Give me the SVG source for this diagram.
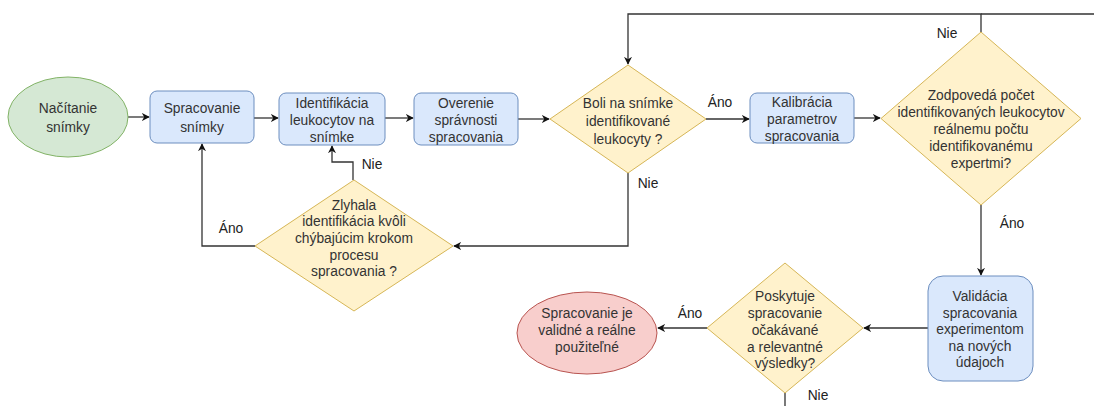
<svg xmlns="http://www.w3.org/2000/svg" width="1094" height="406" viewBox="0 0 1094 406">
<style>
text{font-family:"Liberation Sans",Arial,sans-serif;font-size:13.8px;fill:#333;text-anchor:middle;dominant-baseline:central}
.lbl{fill:#222}
.proc{fill:#dae8fc;stroke:#6c8ebf;stroke-width:1}
.dec{fill:#fff2cc;stroke:#d6b656;stroke-width:1}
.start{fill:#d5e8d4;stroke:#82b366;stroke-width:1}
.end{fill:#f8cecc;stroke:#b85450;stroke-width:1}
.c{fill:none;stroke:#333;stroke-width:1.3;marker-end:url(#ah)}
.cn{fill:none;stroke:#333;stroke-width:1.3}
</style>
<defs>
<marker id="ah" viewBox="0 0 10 10" refX="9" refY="5" markerWidth="8" markerHeight="8" markerUnits="userSpaceOnUse" orient="auto">
<path d="M0,0 L10,5 L0,10 L3,5 z" fill="#111"/>
</marker>
</defs>
<rect width="1094" height="406" fill="#fff"/>
<g id="connectors">
<path class="c" d="M128,117 H149"/>
<path class="c" d="M254,118 H278"/>
<path class="c" d="M385,118 H413"/>
<path class="c" d="M518,119 H549"/>
<path class="c" d="M706,119 H749"/>
<path class="c" d="M854,118 H880"/>
<path class="c" d="M981,32 V14 H628 V64"/>
<path class="cn" d="M785,393 V420 H1110 V14 H981"/>
<path class="c" d="M981,205 V275"/>
<path class="c" d="M928,328 H864"/>
<path class="c" d="M707,328 H658"/>
<path class="c" d="M628,173 V246 H454"/>
<path class="c" d="M255,246 H202 V144"/>
<path class="c" d="M353,180 V162 H332 V146"/>
<text class="lbl" x="720" y="102">Áno</text>
<text class="lbl" x="648" y="183">Nie</text>
<text class="lbl" x="947" y="33">Nie</text>
<text class="lbl" x="1012" y="223">Áno</text>
<text class="lbl" x="231" y="228">Áno</text>
<text class="lbl" x="372" y="164">Nie</text>
<text class="lbl" x="690" y="313">Áno</text>
<text class="lbl" x="818" y="395">Nie</text>
</g>
<g id="n1">
<ellipse class="start" cx="68" cy="117" rx="60" ry="40"/>
<text x="68" y="108">Načítanie</text>
<text x="68" y="127">snímky</text>
</g>
<g id="n2">
<rect class="proc" x="150" y="91" width="104" height="52" rx="7"/>
<text x="202" y="108">Spracovanie</text>
<text x="202" y="127">snímky</text>
</g>
<g id="n3">
<rect class="proc" x="279" y="93" width="106" height="52" rx="7"/>
<text x="332" y="103">Identifikácia</text>
<text x="332" y="120">leukocytov na</text>
<text x="332" y="137">snímke</text>
</g>
<g id="n4">
<rect class="proc" x="414" y="93" width="104" height="52" rx="7"/>
<text x="466" y="103">Overenie</text>
<text x="466" y="120">správnosti</text>
<text x="466" y="137">spracovania</text>
</g>
<g id="n5">
<polygon class="dec" points="628,65 706,119 628,173 550,119"/>
<text x="628" y="103">Boli na snímke</text>
<text x="628" y="121">identifikované</text>
<text x="628" y="139">leukocyty ?</text>
</g>
<g id="n6">
<rect class="proc" x="750" y="93" width="104" height="50" rx="7"/>
<text x="802" y="102">Kalibrácia</text>
<text x="802" y="119">parametrov</text>
<text x="802" y="136">spracovania</text>
</g>
<g id="n7">
<polygon class="dec" points="981,32 1081,118.5 981,205 881,118.5"/>
<text x="981" y="95">Zodpovedá počet</text>
<text x="981" y="112">identifikovaných leukocytov</text>
<text x="981" y="129">reálnemu počtu</text>
<text x="981" y="146">identifikovanému</text>
<text x="981" y="163">expertmi?</text>
</g>
<g id="n8">
<rect class="proc" x="928" y="276" width="105" height="105" rx="15"/>
<text x="980" y="296">Validácia</text>
<text x="980" y="313">spracovania</text>
<text x="980" y="329">experimentom</text>
<text x="980" y="346">na nových</text>
<text x="980" y="362">údajoch</text>
</g>
<g id="n9">
<polygon class="dec" points="785,263 863,328 785,393 707,328"/>
<text x="785" y="296">Poskytuje</text>
<text x="785" y="313">spracovanie</text>
<text x="785" y="330">očakávané</text>
<text x="785" y="347">a relevantné</text>
<text x="785" y="363">výsledky?</text>
</g>
<g id="n10">
<ellipse class="end" cx="587" cy="333" rx="70" ry="41"/>
<text x="587" y="313">Spracovanie je</text>
<text x="587" y="330">validné a reálne</text>
<text x="587" y="347">použiteľné</text>
</g>
<g id="n11">
<polygon class="dec" points="354,180 453,246 354,311 255,246"/>
<text x="354" y="205">Zlyhala</text>
<text x="354" y="221">identifikácia kvôli</text>
<text x="354" y="238">chýbajúcim krokom</text>
<text x="354" y="255">procesu</text>
<text x="354" y="271">spracovania ?</text>
</g>
</svg>
